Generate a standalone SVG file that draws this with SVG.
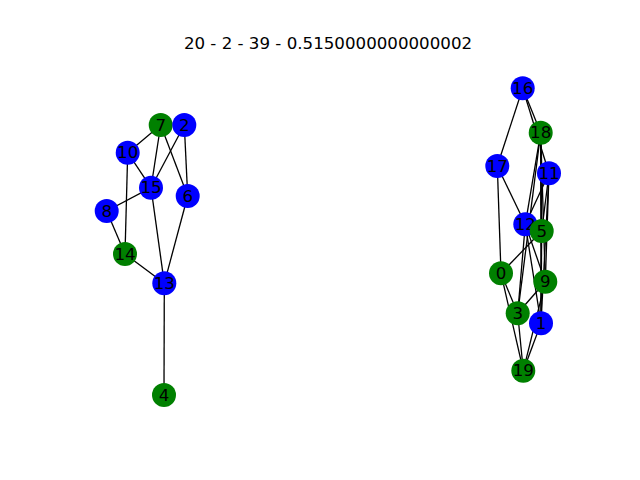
<svg xmlns="http://www.w3.org/2000/svg" width="640" height="480" viewBox="0 0 640 480">
  <style>
    .edge { stroke: #000; stroke-width: 1.3; fill: none; }
    .b { fill: #0000ff; }
    .g { fill: #008000; }
    text { font-family: "DejaVu Sans", sans-serif; font-size: 16.67px; fill: #000; }
    .lbl { text-anchor: middle; dominant-baseline: central; }
  </style>
  <rect width="640" height="480" fill="#ffffff"/>
  <text x="328" y="49" text-anchor="middle">20 - 2 - 39 - 0.5150000000000002</text>

  <g id="edges">
    <!-- left component -->
    <line class="edge" x1="160.7" y1="125" x2="127.7" y2="152.7"/>
    <line class="edge" x1="160.7" y1="125" x2="151" y2="187.7"/>
    <line class="edge" x1="160.7" y1="125" x2="187.7" y2="196"/>
    <line class="edge" x1="184.3" y1="125" x2="151" y2="187.7"/>
    <line class="edge" x1="184.3" y1="125" x2="187.7" y2="196"/>
    <line class="edge" x1="127.7" y1="152.7" x2="151" y2="187.7"/>
    <line class="edge" x1="127.7" y1="152.7" x2="125" y2="254"/>
    <line class="edge" x1="151" y1="187.7" x2="106.7" y2="211"/>
    <line class="edge" x1="151" y1="187.7" x2="164.3" y2="283.3"/>
    <line class="edge" x1="187.7" y1="196" x2="164.3" y2="283.3"/>
    <line class="edge" x1="106.7" y1="211" x2="125" y2="254"/>
    <line class="edge" x1="125" y1="254" x2="164.3" y2="283.3"/>
    <line class="edge" x1="164.3" y1="283.3" x2="164" y2="395"/>
    <!-- right component -->
    <line class="edge" x1="522.7" y1="88.3" x2="497.3" y2="166"/>
    <line class="edge" x1="522.7" y1="88.3" x2="540.7" y2="132.7"/>
    <line class="edge" x1="522.7" y1="88.3" x2="549" y2="173.3"/>
    <line class="edge" x1="497.3" y1="166" x2="501" y2="273.3"/>
    <line class="edge" x1="497.3" y1="166" x2="525.3" y2="224.3"/>
    <line class="edge" x1="540.7" y1="132.7" x2="525.3" y2="224.3"/>
    <line class="edge" x1="540.7" y1="132.7" x2="517.7" y2="313.3"/>
    <line class="edge" x1="540.7" y1="132.7" x2="541.7" y2="231"/>
    <line class="edge" x1="540.7" y1="132.7" x2="545.3" y2="281.7"/>
    <line class="edge" x1="540.7" y1="132.7" x2="541" y2="323.3"/>
    <line class="edge" x1="549" y1="173.3" x2="525.3" y2="224.3"/>
    <line class="edge" x1="549" y1="173.3" x2="541.7" y2="231"/>
    <line class="edge" x1="549" y1="173.3" x2="545.3" y2="281.7"/>
    <line class="edge" x1="549" y1="173.3" x2="541" y2="323.3"/>
    <line class="edge" x1="525.3" y1="224.3" x2="517.7" y2="313.3"/>
    <line class="edge" x1="525.3" y1="224.3" x2="545.3" y2="281.7"/>
    <line class="edge" x1="525.3" y1="224.3" x2="541" y2="323.3"/>
    <line class="edge" x1="541.7" y1="231" x2="501" y2="273.3"/>
    <line class="edge" x1="541.7" y1="231" x2="541" y2="323.3"/>
    <line class="edge" x1="501" y1="273.3" x2="517.7" y2="313.3"/>
    <line class="edge" x1="501" y1="273.3" x2="523.3" y2="370.7"/>
    <line class="edge" x1="545.3" y1="281.7" x2="517.7" y2="313.3"/>
    <line class="edge" x1="545.3" y1="281.7" x2="523.3" y2="370.7"/>
    <line class="edge" x1="517.7" y1="313.3" x2="523.3" y2="370.7"/>
    <line class="edge" x1="541" y1="323.3" x2="523.3" y2="370.7"/>
  </g>

  <g id="n7"><circle class="g" cx="160.7" cy="125" r="12"/><text class="lbl" x="160.7" y="125">7</text></g>
  <g id="n2"><circle class="b" cx="184.3" cy="125" r="12"/><text class="lbl" x="184.3" y="125">2</text></g>
  <g id="n10"><circle class="b" cx="127.7" cy="152.7" r="12"/><text class="lbl" x="127.7" y="152.7">10</text></g>
  <g id="n15"><circle class="b" cx="151" cy="187.7" r="12"/><text class="lbl" x="151" y="187.7">15</text></g>
  <g id="n6"><circle class="b" cx="187.7" cy="196" r="12"/><text class="lbl" x="187.7" y="196">6</text></g>
  <g id="n8"><circle class="b" cx="106.7" cy="211" r="12"/><text class="lbl" x="106.7" y="211">8</text></g>
  <g id="n14"><circle class="g" cx="125" cy="254" r="12"/><text class="lbl" x="125" y="254">14</text></g>
  <g id="n13"><circle class="b" cx="164.3" cy="283.3" r="12"/><text class="lbl" x="164.3" y="283.3">13</text></g>
  <g id="n4"><circle class="g" cx="164" cy="395" r="12"/><text class="lbl" x="164" y="395">4</text></g>

  <g id="n16"><circle class="b" cx="522.7" cy="88.3" r="12"/><text class="lbl" x="522.7" y="88.3">16</text></g>
  <g id="n18"><circle class="g" cx="540.7" cy="132.7" r="12"/><text class="lbl" x="540.7" y="132.7">18</text></g>
  <g id="n17"><circle class="b" cx="497.3" cy="166" r="12"/><text class="lbl" x="497.3" y="166">17</text></g>
  <g id="n11"><circle class="b" cx="549" cy="173.3" r="12"/><text class="lbl" x="549" y="173.3">11</text></g>
  <g id="n12"><circle class="b" cx="525.3" cy="224.3" r="12"/><text class="lbl" x="525.3" y="224.3">12</text></g>
  <g id="n5"><circle class="g" cx="541.7" cy="231" r="12"/><text class="lbl" x="541.7" y="231">5</text></g>
  <g id="n0"><circle class="g" cx="501" cy="273.3" r="12"/><text class="lbl" x="501" y="273.3">0</text></g>
  <g id="n9"><circle class="g" cx="545.3" cy="281.7" r="12"/><text class="lbl" x="545.3" y="281.7">9</text></g>
  <g id="n3"><circle class="g" cx="517.7" cy="313.3" r="12"/><text class="lbl" x="517.7" y="313.3">3</text></g>
  <g id="n1"><circle class="b" cx="541" cy="323.3" r="12"/><text class="lbl" x="541" y="323.3">1</text></g>
  <g id="n19"><circle class="g" cx="523.3" cy="370.7" r="12"/><text class="lbl" x="523.3" y="370.7">19</text></g>
</svg>
